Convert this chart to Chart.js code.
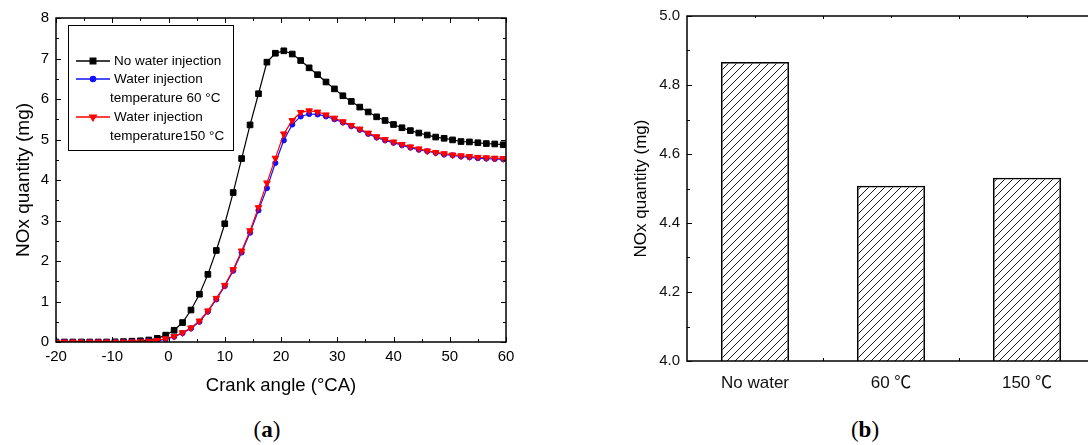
<!DOCTYPE html>
<html>
<head>
<meta charset="utf-8">
<script src="https://cdn.jsdelivr.net/npm/chart.js@4.4.0/dist/chart.umd.min.js"></script>
<style>
    html, body { margin: 0; padding: 0; background: #fff; overflow: hidden; }
    #wrap { position: relative; width: 1088px; height: 445px; overflow: hidden; }
    #lineChart { position: absolute; left: 0; top: 0; width: 540px; height: 400px; }
    #barChart { position: absolute; left: 600px; top: 0; width: 500px; height: 400px; }
    .cap { position: absolute; font-family: "Liberation Serif", serif; font-size: 23px; color: #000; transform: translateX(-50%); }
</style>
</head>
<body>
<div id="wrap">
    <canvas id="lineChart" width="540" height="400"></canvas>
    <canvas id="barChart" width="500" height="400"></canvas>
    <div class="cap" style="left:267px; top:417px">(<b>a</b>)</div>
    <div class="cap" style="left:865px; top:417px">(<b>b</b>)</div>
</div>
<script>
const family = "'Liberation Sans', Arial, 'Noto Sans CJK SC', sans-serif"
Chart.defaults.font.family = family
Chart.defaults.color = "#000"

// Data (a): NOx vs crank angle
const crankAngle = [-20, -18.5, -17, -15.5, -14, -12.5, -11, -9.5, -8, -6.5, -5, -3.5, -2, -0.5, 1, 2.5, 4, 5.5, 7, 8.5,
    10, 11.5, 13, 14.5, 16, 17.5, 19, 20.5, 22, 23.5, 25, 26.5, 28, 29.5, 31, 32.5, 34, 35.5, 37, 38.5,
    40, 41.5, 43, 44.5, 46, 47.5, 49, 50.5, 52, 53.5, 55, 56.5, 58, 59.5]
const noWater = [0, 0, 0, 0, 0, 0, 0, 0.005, 0.01, 0.02, 0.03, 0.05, 0.09, 0.17, 0.29, 0.48, 0.79, 1.18, 1.67, 2.26,
    2.92, 3.69, 4.53, 5.36, 6.13, 6.91, 7.13, 7.19, 7.11, 6.95, 6.77, 6.6, 6.42, 6.25, 6.08, 5.94, 5.8, 5.68, 5.56, 5.47,
    5.37, 5.29, 5.22, 5.16, 5.11, 5.06, 5.03, 4.99, 4.95, 4.94, 4.92, 4.9, 4.89, 4.87]
const water60 = [0, 0, 0, 0, 0, 0, 0, 0, 0, 0.003, 0.008, 0.015, 0.03, 0.07, 0.13, 0.22, 0.34, 0.5, 0.75, 1.05,
    1.38, 1.76, 2.21, 2.7, 3.25, 3.8, 4.42, 4.98, 5.37, 5.57, 5.63, 5.62, 5.57, 5.5, 5.42, 5.33, 5.24, 5.14, 5.05, 4.98,
    4.92, 4.86, 4.8, 4.75, 4.71, 4.67, 4.63, 4.61, 4.58, 4.56, 4.54, 4.53, 4.52, 4.51]
const water150 = [0, 0, 0, 0, 0, 0, 0, 0, 0, 0.004, 0.01, 0.02, 0.04, 0.08, 0.14, 0.23, 0.35, 0.52, 0.77, 1.08,
    1.4, 1.79, 2.25, 2.75, 3.32, 3.93, 4.54, 5.14, 5.47, 5.67, 5.71, 5.68, 5.61, 5.53, 5.44, 5.35, 5.26, 5.16, 5.07, 5.0,
    4.94, 4.88, 4.82, 4.77, 4.72, 4.68, 4.65, 4.62, 4.6, 4.58, 4.56, 4.55, 4.54, 4.53]
const seriesNames = ["No water injection", ["Water injection", "temperature 60 °C"], ["Water injection", "temperature150 °C"]]

// Data (b): final NOx
const barLabels = ["No water", "60 ℃", "150 ℃"]
const barValues = [4.867, 4.508, 4.531]

const toPoints = (ys) => ys.map((y, i) => ({ x: crankAngle[i], y: y }))

// box round the plot + inward ticks (major and half-step minor)
const framePlugin = {
    id: "frame",
    afterDatasetsDraw(chart, args, opts) {
        const { ctx, chartArea: a, scales } = chart
        ctx.save()
        ctx.strokeStyle = "#000"
        ctx.lineWidth = 1
        ctx.beginPath()
        Object.values(scales).forEach((s) => {
            if (s.type !== "linear") return
            const vals = s.ticks.map((t) => t.value)
            const marks = []
            vals.forEach((v, i) => {
                marks.push([v, 5])
                if (i < vals.length - 1) marks.push([(v + vals[i + 1]) / 2, 3])
            })
            marks.forEach(([v, len]) => {
                const p = Math.round(s.getPixelForValue(v)) + 0.5
                if (s.isHorizontal()) {
                    ctx.moveTo(p, a.bottom); ctx.lineTo(p, a.bottom - len)
                    ctx.moveTo(p, a.top); ctx.lineTo(p, a.top + len)
                } else {
                    ctx.moveTo(a.left, p); ctx.lineTo(a.left + len, p)
                    ctx.moveTo(a.right, p); ctx.lineTo(a.right - len, p)
                }
            })
        })
        if (scales.x.type === "category") {
            const n = chart.data.labels.length
            for (let i = 0; i < n; i++) {
                const c = Math.round(scales.x.getPixelForValue(i)) + 0.5
                ctx.moveTo(c, a.top); ctx.lineTo(c, a.top + 2)
                if (i < n - 1) {
                    const b = Math.round(scales.x.getPixelForValue(i + 0.5)) + 0.5
                    ctx.moveTo(b, a.top); ctx.lineTo(b, a.top + 3)
                    ctx.moveTo(b, a.bottom); ctx.lineTo(b, a.bottom - 3)
                }
            }
        }
        ctx.stroke()
        ctx.lineWidth = 1.5
        ctx.strokeRect(a.left, a.top, a.right - a.left, a.bottom - a.top)
        ctx.restore()
    },
}

// legend drawn inside the plot, with two-line labels
const boxLegend = {
    id: "boxLegend",
    afterDraw(chart) {
        const { ctx } = chart
        const rows = [61, 79, 117]
        ctx.save()
        ctx.strokeStyle = "#000"
        ctx.lineWidth = 1
        ctx.fillStyle = "#fff"
        ctx.fillRect(68.5, 25.5, 165, 125)
        ctx.strokeRect(68.5, 25.5, 165, 125)
        ctx.font = "13.5px " + family
        ctx.textBaseline = "middle"
        chart.data.datasets.forEach((ds, i) => {
            const y = rows[i]
            ctx.strokeStyle = ds.borderColor
            ctx.fillStyle = ds.backgroundColor
            ctx.lineWidth = 1.3
            ctx.beginPath()
            ctx.moveTo(76, y)
            ctx.lineTo(110, y)
            ctx.stroke()
            Chart.helpers.drawPoint(ctx, { pointStyle: ds.pointStyle, radius: ds.pointRadius, rotation: ds.pointRotation || 0, borderWidth: 1 }, 93, y)
            ctx.fillStyle = "#000"
            const lines = Array.isArray(ds.label) ? ds.label : [ds.label]
            lines.forEach((t, k) => ctx.fillText(t, k === 0 ? 114 : 110, y + k * 19.5))
        })
        ctx.restore()
    },
}

new Chart(document.getElementById("lineChart"), {
    type: "line",
    data: {
        datasets: [
            {
                label: seriesNames[0],
                data: toPoints(noWater),
                borderColor: "#000000",
                backgroundColor: "#000000",
                pointStyle: "rect",
                pointRadius: 4,
                order: 2,
            },
            {
                label: seriesNames[1],
                data: toPoints(water60),
                borderColor: "#1010ff",
                backgroundColor: "#1010ff",
                pointStyle: "circle",
                pointRadius: 2.6,
                order: 1,
            },
            {
                label: seriesNames[2],
                data: toPoints(water150),
                borderColor: "#ff0000",
                backgroundColor: "#ff0000",
                pointStyle: "triangle",
                pointRotation: 180,
                pointRadius: 3.8,
                order: 0,
            },
        ],
    },
    options: {
        responsive: false,
        animation: false,
        layout: { padding: { top: 18, right: 34, left: 0, bottom: 0 } },
        elements: {
            line: { borderWidth: 1.2, tension: 0 },
            point: { borderWidth: 1 },
        },
        plugins: { legend: { display: false }, tooltip: { enabled: false } },
        scales: {
            x: {
                type: "linear",
                min: -20,
                max: 60,
                grid: { display: false, drawTicks: false },
                border: { display: false },
                ticks: { stepSize: 10, padding: 6, font: { size: 15 }, color: "#000" },
                title: { display: true, text: "Crank angle (°CA)", font: { size: 18.5 }, padding: { top: 0, bottom: 3 } },
                afterFit: (s) => { s.height = 58 },
            },
            y: {
                min: 0,
                max: 8,
                grid: { display: false, drawTicks: false },
                border: { display: false },
                ticks: { stepSize: 1, padding: 7, font: { size: 15 }, color: "#000" },
                title: { display: true, text: "NOx quantity (mg)", font: { size: 19 }, padding: { top: 12, bottom: 0 } },
                afterFit: (s) => { s.width = 56 },
            },
        },
    },
    plugins: [framePlugin, boxLegend],
})

const barCanvas = document.getElementById("barChart")
function hatchPattern(ctx) {
    const c = document.createElement("canvas")
    c.width = 8
    c.height = 8
    const g = c.getContext("2d")
    g.strokeStyle = "#000"
    g.lineWidth = 0.9
    g.beginPath()
    g.moveTo(0, 8); g.lineTo(8, 0)
    g.moveTo(-2, 2); g.lineTo(2, -2)
    g.moveTo(6, 10); g.lineTo(10, 6)
    g.stroke()
    return ctx.createPattern(c, "repeat")
}

new Chart(barCanvas, {
    type: "bar",
    data: {
        labels: barLabels,
        datasets: [
            {
                data: barValues,
                backgroundColor: hatchPattern(barCanvas.getContext("2d")),
                borderColor: "#000",
                borderWidth: 1.5,
                barPercentage: 0.5,
                categoryPercentage: 1,
            },
        ],
    },
    options: {
        responsive: false,
        animation: false,
        layout: { padding: { top: 16, right: 5, left: 0, bottom: 0 } },
        plugins: { legend: { display: false }, tooltip: { enabled: false } },
        scales: {
            x: {
                grid: { display: false, drawTicks: false },
                border: { display: false },
                ticks: { padding: 12, font: { size: 17 }, color: "#111" },
                afterFit: (s) => { s.height = 39 },
            },
            y: {
                type: "linear",
                min: 4.0,
                max: 5.0,
                grid: { display: false, drawTicks: false },
                border: { display: false },
                ticks: { stepSize: 0.2, padding: 7, font: { size: 15 }, color: "#111", callback: (v) => v.toFixed(1) },
                title: { display: true, text: "NOx quantity (mg)", font: { size: 17 }, padding: { top: 31, bottom: 0 } },
                afterFit: (s) => { s.width = 87 },
            },
        },
    },
    plugins: [framePlugin],
})
</script>
</body>
</html>
